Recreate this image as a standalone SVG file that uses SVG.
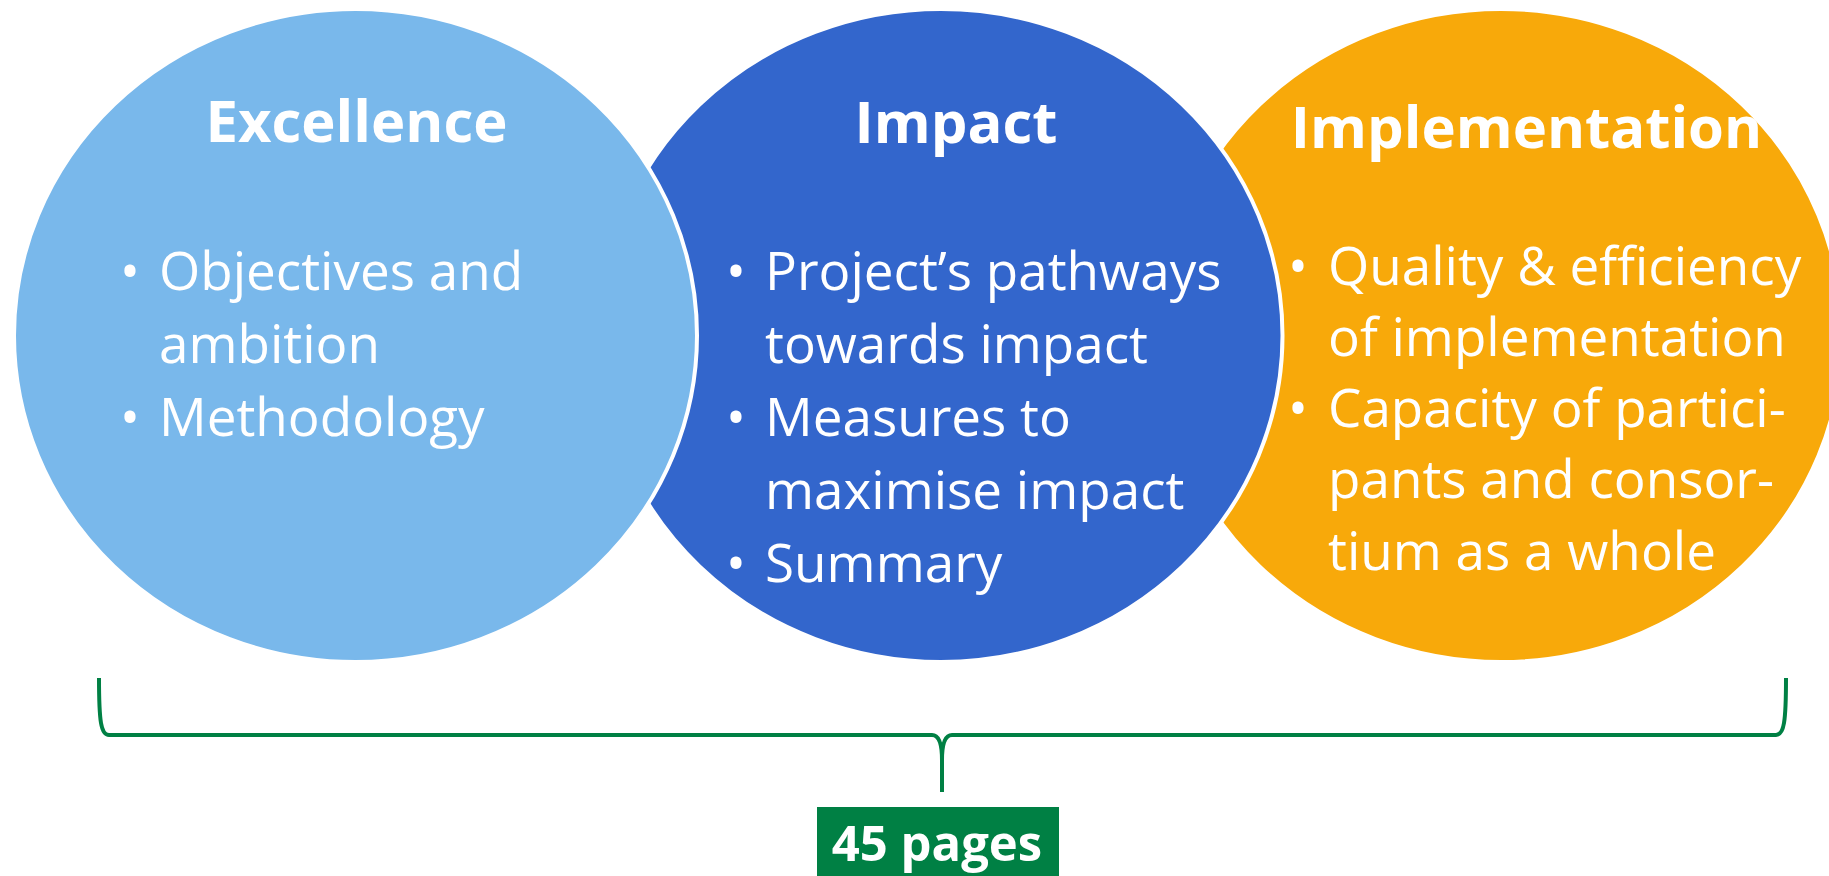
<svg xmlns="http://www.w3.org/2000/svg" width="1829" height="876" viewBox="0 0 1829 876">
<style>
.oval{stroke:#FFFFFF;stroke-width:4}
.title{font-family:"Open Sans","Liberation Sans",sans-serif;font-weight:bold;fill:#FFFFFF;text-anchor:middle}
.body{font-family:"Open Sans","Liberation Sans",sans-serif;font-size:53px;fill:#FFFFFF}
.dot{font-family:"Open Sans","Liberation Sans",sans-serif;font-size:53px;fill:#FFFFFF;text-anchor:middle}
.brace{fill:none;stroke:#008044;stroke-width:4;stroke-linecap:butt;stroke-linejoin:round}
</style>
<rect width="1829" height="876" fill="#FFFFFF"/>
<g id="implementation">
<ellipse class="oval" cx="1501" cy="335.5" rx="341.5" ry="326.5" fill="#F8A90A"/>
<text class="title" x="1526.5" y="148" font-size="58">Implementation</text>
<text class="dot" x="1298" y="285">•</text>
<text class="body" x="1328" y="285">Quality &amp; efficiency</text>
<text class="body" x="1328" y="356">of implementation</text>
<text class="dot" x="1298" y="427">•</text>
<text class="body" x="1328" y="427">Capacity of partici-</text>
<text class="body" x="1328" y="498">pants and consor-</text>
<text class="body" x="1328" y="570">tium as a whole</text>
</g>
<g id="impact">
<ellipse class="oval" cx="941" cy="335.5" rx="341.5" ry="326.5" fill="#3366CC"/>
<text class="title" x="956" y="143" font-size="58">Impact</text>
<text class="dot" x="736" y="290">•</text>
<text class="body" x="765" y="290">Project’s pathways</text>
<text class="body" x="765" y="363">towards impact</text>
<text class="dot" x="736" y="436">•</text>
<text class="body" x="765" y="436">Measures to</text>
<text class="body" x="765" y="509">maximise impact</text>
<text class="dot" x="736" y="582">•</text>
<text class="body" x="765" y="582">Summary</text>
</g>
<g id="excellence">
<ellipse class="oval" cx="355.5" cy="335.5" rx="341.5" ry="326.5" fill="#79B8EB"/>
<text class="title" x="356.5" y="142" font-size="58">Excellence</text>
<text class="dot" x="130" y="290">•</text>
<text class="body" x="159" y="290">Objectives and</text>
<text class="body" x="159" y="363">ambition</text>
<text class="dot" x="130" y="436">•</text>
<text class="body" x="159" y="436">Methodology</text>
</g>
<g id="connectors">
<path class="brace" d="M 99 678 C 99 722 101 735 109 735 L 932 735 C 938 735 942 742 942 760 L 942 792"/>
<path class="brace" d="M 1786 678 C 1786 722 1784 735 1776 735 L 952 735 C 946 735 942 742 942 760"/>
</g>
<g id="pages">
<rect x="817" y="807" width="242" height="69" fill="#008044"/>
<text class="title" x="937" y="861" font-size="49">45 pages</text>
</g>
</svg>
